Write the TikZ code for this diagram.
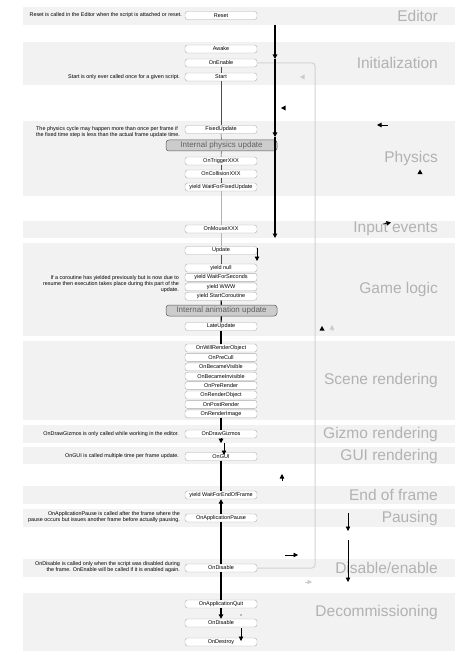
\documentclass[tikz,border=0pt]{standalone}
\usepackage{fontspec}
\setmainfont{Liberation Sans}
\usepackage{tikz}
\usetikzlibrary{arrows.meta, positioning}
\tikzset{>/.tip={Triangle[length=4.5pt,width=4.5pt]}}
\tikzset{
  band/.style={fill=gray!10, draw=none},
  call/.style={draw=gray!65, fill=white, rounded corners=2.5pt, line width=0.4pt,
    minimum width=72pt, minimum height=8pt, inner sep=0pt, font=\fontsize{5.5}{6}\selectfont},
  engine/.style={draw=gray!70!black, fill=gray!40, rounded corners=3pt, line width=0.5pt,
    minimum width=111pt, minimum height=11pt, inner sep=0pt, text=gray!75!black,
    font=\fontsize{8}{9}\selectfont},
  note/.style={inner sep=0pt, font=\fontsize{5.4}{6}\selectfont},
  phase/.style={anchor=east, inner sep=0pt, text=gray!60, font=\fontsize{15.5}{16}\selectfont},
  flow/.style={gray!60!black, line width=0.5pt},
  mainflow/.style={black, line width=1.1pt},
  loopline/.style={gray!35, line width=1pt, rounded corners=3pt},
}

\begin{document}
\begin{tikzpicture}[x=1pt, y=-1pt, node distance=1pt]
\useasboundingbox (0,0) rectangle (474,663);

% phase bands
\foreach \top/\bot in {7/25, 42/85, 121/196, 221/238, 243/336, 341/420,
                       425/443, 447/464, 486/504, 509/527, 559/577, 593/651}
  \fill[band] (23,\top) rectangle (455,\bot);

% phase names
\node[phase] (editor) at (438,15.5) {Editor};
\node[phase] (init) at (438,63) {Initialization};
\node[phase] (physics) at (438,158) {Physics};
\node[phase] (input) at (438,229) {Input events};
\node[phase] (game) at (438,289) {Game logic};
\node[phase] (scene) at (438,380) {Scene rendering};
\node[phase] (gizmo) at (438,434) {Gizmo rendering};
\node[phase] (guir) at (438,456.5) {GUI rendering};
\node[phase] (eof) at (438,495) {End of frame};
\node[phase] (pausing) at (438,518) {Pausing};
\node[phase] (disen) at (438,568) {Disable/enable};
\node[phase] (decom) at (438,612) {Decommissioning};

% enable/disable loop
\coordinate (loopT) at (315,63);
\coordinate (loopB) at (315,568);

% editor
\node[call] (reset) at (221,15.5) {Reset};
\node[note, anchor=east] (resetnote) at (182,15.5)
  {Reset is called in the Editor when the script is attached or reset.};

% initialization
\node[call] (awake) at (221,49) {Awake};
\node[call] (onenable) at (221,63) {OnEnable};
\node[call] (start) at (221,77) {Start};
\node[note, anchor=east] (startnote) at (180,77)
  {Start is only ever called once for a given script.};

% physics
\node[call] (fixed) at (221,129.5) {FixedUpdate};
\node[engine] (physint) at (221.5,145.5) {Internal physics update};
\node[call] (trigger) at (221,161) {OnTriggerXXX};
\node[call] (collision) at (221,174) {OnCollisionXXX};
\node[call] (waitfixed) at (221,187) {yield WaitForFixedUpdate};
\node[note, anchor=west, align=left] (physnote) at (36,132.5)
  {The physics cycle may happen more than once per frame if\\
   the fixed time step is less than the actual frame update time.};

% input events
\node[call] (mouse) at (221,229) {OnMouseXXX};

% game logic
\node[call] (update) at (221,250.5) {Update};
\node[call] (ynull) at (221,268) {yield null};
\node[call, below=of ynull] (ywfs) {yield WaitForSeconds};
\node[call, below=of ywfs] (ywww) {yield WWW};
\node[call, below=of ywww] (ysc) {yield StartCoroutine};
\node[engine] (animint) at (221.5,310.5) {Internal animation update};
\node[call] (late) at (221,326.5) {LateUpdate};
\node[note, anchor=east, align=right] (conote) at (179,284)
  {If a coroutine has yielded previously but is now due to\\
   resume then execution takes place during this part of the\\
   update.};

% scene rendering
\node[call] (owro) at (221,348) {OnWillRenderObject};
\node[call, below=of owro] (precull) {OnPreCull};
\node[call, below=of precull] (visible) {OnBecameVisible};
\node[call, below=of visible] (invisible) {OnBecameInvisible};
\node[call, below=of invisible] (prerender) {OnPreRender};
\node[call, below=of prerender] (renderobj) {OnRenderObject};
\node[call, below=of renderobj] (postrender) {OnPostRender};
\node[call, below=of postrender] (renderimg) {OnRenderImage};

% gizmos and gui
\node[call] (gizmos) at (221,434) {OnDrawGizmos};
\node[note, anchor=east] (gizmonote) at (179,434)
  {OnDrawGizmos is only called while working in the editor.};
\node[call] (gui) at (221,456.5) {OnGUI};
\node[note, anchor=east] (guinote) at (179,456.5)
  {OnGUI is called multiple time per frame update.};

% end of frame, pausing, disable
\node[call] (endframe) at (221,495) {yield WaitForEndOfFrame};
\node[call] (pause) at (221,518) {OnApplicationPause};
\node[note, anchor=east, align=right] (pausenote) at (180,517)
  {OnApplicationPause is called after the frame where the\\
   pause occurs but issues another frame before actually pausing.};
\node[call] (disable) at (221,568) {OnDisable};
\node[note, anchor=east, align=right] (disablenote) at (180,567)
  {OnDisable is called only when the script was disabled during\\
   the frame. OnEnable will be called if it is enabled again.};

% decommissioning
\node[call] (quit) at (221,604) {OnApplicationQuit};
\node[call] (disable2) at (221,623) {OnDisable};
\node[call] (destroy) at (221,642) {OnDestroy};

% loop line
\draw[loopline] (onenable.east) -- (loopT) -- (loopB) -- (disable.east);

% flow
\draw[flow] (onenable) -- (start);
\draw[flow] (start) -- (fixed);
\draw[flow] (fixed) -- (physint);
\draw[flow] (physint) -- (trigger);
\draw[flow] (trigger) -- (collision);
\draw[flow] (collision) -- (waitfixed);
\draw[flow, gray!60] (waitfixed) -- (mouse);
\draw[flow, gray!60] (mouse) -- (update);
\draw[flow] (update) -- (ynull);
\draw[mainflow] (ysc) -- (animint);
\draw[mainflow] (animint) -- (late);
\draw[mainflow] (late) -- (owro);
\draw[mainflow] (renderimg) -- (gizmos);
\draw[->, line width=0.8pt] (gizmos.south) -- ++(0,5);
\coordinate (guiA) at (224,443);
\coordinate (guiB) at (224,455);
\draw[->, line width=0.8pt] (guiA) -- (guiB);
\draw[mainflow] (gui) -- (endframe);
\draw[mainflow, <-] (endframe) -- (pause);
\draw[mainflow] (pause) -- (disable);
\draw[mainflow] (disable) -- (quit);
\draw[mainflow, ->] (quit) -- (disable2);
\coordinate (destA) at (241,628);
\coordinate (destB) at (241,641);
\draw[->, line width=0.8pt] (destA) -- (destB);
\fill (241,615) circle (0.6);

% big frame arrow
\coordinate (fa) at (275,25);
\coordinate (fb) at (275,59);
\coordinate (fc) at (275,137);
\coordinate (fd) at (275,238);
\draw[mainflow, ->] (fa) -- (fb);
\draw[mainflow, ->] (fb) -- (fc);
\draw[mainflow, ->] (fc) -- (fd);

% update arrow
\coordinate (ua) at (257,248);
\coordinate (ub) at (257,261);
\draw[->, line width=0.8pt] (ua) -- (ub);

% stray marks
\fill[gray!40] (300,77) -- (304.5,74.5) -- (304.5,79.5) -- cycle;
\fill (281,108) -- (285.5,105.5) -- (285.5,110.5) -- cycle;
\draw[->, line width=0.7pt] (388,125) -- (377,125);
\fill (420,169.5) -- (422.5,174) -- (417.5,174) -- cycle;
\draw[->, line width=0.7pt] (383,224) -- (391,222.5);
\fill (322,326) -- (324.5,330.5) -- (319.5,330.5) -- cycle;
\draw[<-, gray!40, line width=0.7pt] (332,325) -- (332,331);
\draw[->, line width=0.7pt] (282,481) -- (282,474);
\draw[->, line width=0.7pt] (285,555) -- (298,555);
\draw[->, gray!40, line width=0.7pt] (305,582) -- (312,582);
\draw[->, line width=0.8pt] (348,513) -- (348,531);
\draw[->, line width=0.8pt] (348,540) -- (348,582);

\end{tikzpicture}
\end{document}
